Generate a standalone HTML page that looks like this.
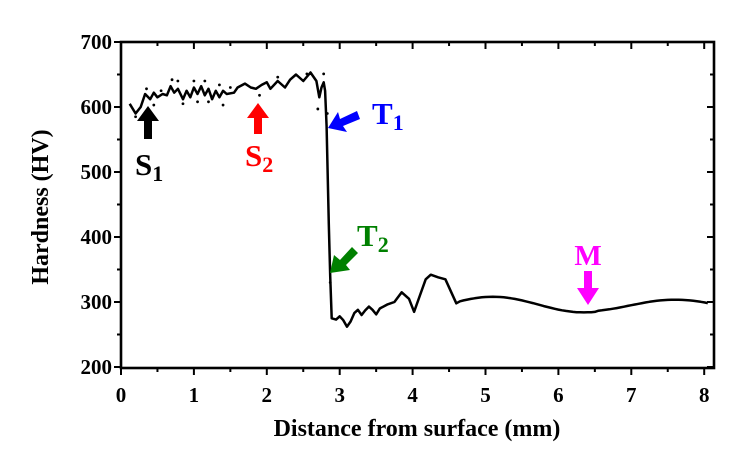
<!DOCTYPE html>
<html><head><meta charset="utf-8"><style>
html,body{margin:0;padding:0;background:#fff;}
svg{display:block;font-family:"Liberation Serif",serif;font-weight:bold;}
</style></head><body>
<svg id="s" width="746" height="463" viewBox="0 0 746 463" xmlns="http://www.w3.org/2000/svg">
<rect x="0" y="0" width="746" height="463" fill="#fff"/>
<g id="axes" stroke="#000" stroke-width="2.6" fill="none">
<rect x="121" y="42" width="593" height="326"/>
</g>
<g id="ticks" stroke="#000" stroke-width="2"></g>
<g id="lbl" font-size="21" text-anchor="middle"></g>
<polyline id="curve" fill="none" stroke="#000" stroke-width="2.5" stroke-linejoin="round"/>
<g id="dots" fill="#000"></g>
<text x="417" y="436" font-size="24" text-anchor="middle">Distance from surface (mm)</text>
<text transform="translate(48,207) rotate(-90)" font-size="24" text-anchor="middle">Hardness (HV)</text>
<!-- S1 -->
<polygon points="148,106 159,121 152,121 152,139 144,139 144,121 137,121" fill="#000"/>
<text x="135" y="175" font-size="31" fill="#000">S<tspan font-size="22" dy="6">1</tspan></text>
<!-- S2 -->
<polygon points="258,103 269,118 262,118 262,134 254,134 254,118 247,118" fill="#f00"/>
<text x="245" y="166" font-size="31" fill="#f00">S<tspan font-size="22" dy="6">2</tspan></text>
<!-- T1 -->
<polygon points="328,128 338,112 340,119 357,111 360,119 343,126 347,132" fill="#00f"/>
<text x="372" y="124" font-size="31" fill="#00f">T<tspan font-size="22" dy="6">1</tspan></text>
<!-- T2 -->
<polygon points="330,273 334,255 340,260 352,247 358,253 346,265 350,270" fill="#008000"/>
<text x="357" y="246" font-size="31" fill="#008000">T<tspan font-size="22" dy="6">2</tspan></text>
<!-- M -->
<polygon points="588,305 577,288 584,288 584,271 592,271 592,288 599,288" fill="#f0f"/>
<text x="588" y="265" font-size="29" fill="#f0f" text-anchor="middle">M</text>
</svg>
<script>
var X=d=>121+72.9*d, Y=v=>42+(700-v)*0.65;
var t=document.getElementById('ticks'),l=document.getElementById('lbl'),ns='http://www.w3.org/2000/svg';
function ln(x1,y1,x2,y2){var e=document.createElementNS(ns,'line');e.setAttribute('x1',x1);e.setAttribute('y1',y1);e.setAttribute('x2',x2);e.setAttribute('y2',y2);t.appendChild(e);}
function tx(x,y,s,a){var e=document.createElementNS(ns,'text');e.setAttribute('x',x);e.setAttribute('y',y);if(a)e.setAttribute('text-anchor',a);e.textContent=s;l.appendChild(e);}
for(var i=0;i<=16;i++){var d=i/2,x=X(d),L=i%2?4:7;ln(x,368,x,368+L);ln(x,42,x,42+L);if(i%2==0)tx(x,402,''+d);}
for(var v=200;v<=700;v+=50){var y=Y(v),L=v%100?4:7;ln(121,y,121-L,y);ln(714,y,714-L,y);if(v%100==0)tx(112,y+7,''+v,'end');}
var D=[[0.12,605],[0.2,590],[0.27,600],[0.33,620],[0.4,612],[0.45,622],[0.5,615],[0.57,620],[0.63,618],[0.68,632],[0.73,622],[0.78,628],[0.85,612],[0.9,625],[0.95,615],[1.0,630],[1.05,620],[1.1,632],[1.15,618],[1.2,628],[1.25,612],[1.3,625],[1.35,615],[1.4,625],[1.45,620],[1.55,622],[1.6,630],[1.7,636],[1.78,630],[1.85,628],[1.93,634],[2.0,638],[2.05,628],[2.15,640],[2.25,630],[2.32,642],[2.4,650],[2.5,640],[2.6,653],[2.68,640],[2.72,615],[2.75,630],[2.78,638],[2.8,625],[2.82,570],[2.85,420],[2.87,340],[2.89,275],[2.95,273],[3.0,278],[3.05,272],[3.1,262],[3.15,270],[3.2,283],[3.25,288],[3.3,280],[3.35,287],[3.4,293],[3.45,288],[3.5,281],[3.55,290],[3.65,296],[3.75,300],[3.85,315],[3.95,305],[4.02,285],[4.1,310],[4.18,335],[4.25,342],[4.35,338],[4.45,335],[4.6,298]];
for(var d=4.6;d<=8.05;d+=0.05){var v=296+12*Math.cos((d-5.1)/2.5*2*Math.PI)*(d<6.5?1:0.75)+(d<6.5?0:-1.5);if(d>4.6)D.push([d,v]);}
document.getElementById('curve').setAttribute('points',D.map(p=>X(p[0]).toFixed(1)+','+Y(p[1]).toFixed(1)).join(' '));
var dots=[[0.2,585],[0.35,628],[0.45,603],[0.55,625],[0.7,642],[0.78,640],[0.85,605],[1.0,640],[1.05,608],[1.15,640],[1.2,608],[1.35,634],[1.4,603],[1.5,630],[1.9,618],[2.15,646],[2.55,651],[2.7,597],[2.78,651],[2.83,590],[2.87,330]];
var g=document.getElementById('dots');dots.forEach(p=>{var c=document.createElementNS(ns,'circle');c.setAttribute('cx',X(p[0]));c.setAttribute('cy',Y(p[1]));c.setAttribute('r',1.4);g.appendChild(c);});
</script>
</body></html>
